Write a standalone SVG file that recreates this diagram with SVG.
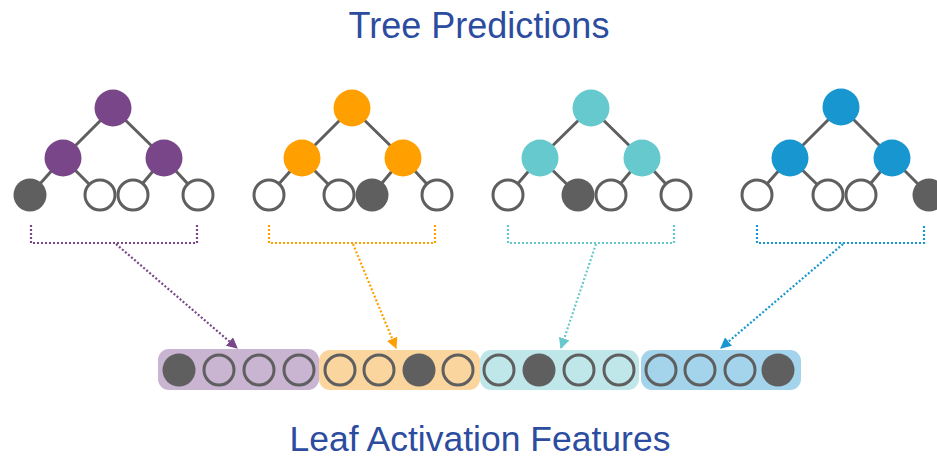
<svg xmlns="http://www.w3.org/2000/svg" width="937" height="459" viewBox="0 0 937 459">
  <style>
    .title { font-family: "Liberation Sans", Arial, sans-serif; font-size: 36px; fill: #2c4c9f; text-anchor: middle; }
    .edge { stroke: #5f5f5f; stroke-width: 3; fill: none; }
    .leaf { fill: #ffffff; stroke: #5f5f5f; stroke-width: 3; }
    .slot { fill: none; stroke: #5f5f5f; stroke-width: 3; }
    .on { fill: #5f5f5f; stroke: none; }
    .dots { fill: none; stroke-width: 2.2; stroke-dasharray: 2 2; }
    .purple { fill: #7a468a; }
    .orange { fill: #ff9f00; }
    .teal { fill: #66c9cd; }
    .blue { fill: #1896d0; }
  </style>
  <defs>
    <marker id="ah-purple" viewBox="0 0 10 10" refX="9" refY="5" markerWidth="5" markerHeight="5" orient="auto" markerUnits="strokeWidth">
      <path d="M0,0 L10,5 L0,10 z" fill="#7a468a"/>
    </marker>
    <marker id="ah-orange" viewBox="0 0 10 10" refX="9" refY="5" markerWidth="5" markerHeight="5" orient="auto" markerUnits="strokeWidth">
      <path d="M0,0 L10,5 L0,10 z" fill="#ff9f00"/>
    </marker>
    <marker id="ah-teal" viewBox="0 0 10 10" refX="9" refY="5" markerWidth="5" markerHeight="5" orient="auto" markerUnits="strokeWidth">
      <path d="M0,0 L10,5 L0,10 z" fill="#66c9cd"/>
    </marker>
    <marker id="ah-blue" viewBox="0 0 10 10" refX="9" refY="5" markerWidth="5" markerHeight="5" orient="auto" markerUnits="strokeWidth">
      <path d="M0,0 L10,5 L0,10 z" fill="#1896d0"/>
    </marker>
  </defs>

  <rect width="937" height="459" fill="#ffffff"/>

  <text class="title" x="479" y="38">Tree Predictions</text>
  <text class="title" x="480" y="451" style="font-size:35.5px">Leaf Activation Features</text>

  <!-- Tree 1 -->
  <g id="tree1">
    <path class="edge" d="M113,108 L63,158 M113,108 L164,158 M63,158 L30,195 M63,158 L100,195 M164,158 L133,195 M164,158 L198,195"/>
    <circle class="purple" cx="113" cy="108" r="18.5"/>
    <circle class="purple" cx="63" cy="158" r="18.5"/>
    <circle class="purple" cx="164" cy="158" r="18.5"/>
    <circle class="on" cx="30" cy="195" r="16.5"/>
    <circle class="leaf" cx="100" cy="195" r="15"/>
    <circle class="leaf" cx="133" cy="195" r="15"/>
    <circle class="leaf" cx="198" cy="195" r="15"/>
  </g>

  <!-- Tree 2 -->
  <g id="tree2">
    <path class="edge" d="M352,108 L302,158 M352,108 L403,158 M302,158 L269,195 M302,158 L339,195 M403,158 L372,195 M403,158 L437,195"/>
    <circle class="orange" cx="352" cy="108" r="18.5"/>
    <circle class="orange" cx="302" cy="158" r="18.5"/>
    <circle class="orange" cx="403" cy="158" r="18.5"/>
    <circle class="leaf" cx="269" cy="195" r="15"/>
    <circle class="leaf" cx="339" cy="195" r="15"/>
    <circle class="on" cx="372" cy="195" r="16.5"/>
    <circle class="leaf" cx="437" cy="195" r="15"/>
  </g>

  <!-- Tree 3 -->
  <g id="tree3">
    <path class="edge" d="M591,108 L540,158 M591,108 L642,158 M540,158 L508,195 M540,158 L578,195 M642,158 L611,195 M642,158 L676,195"/>
    <circle class="teal" cx="591" cy="108" r="18.5"/>
    <circle class="teal" cx="540" cy="158" r="18.5"/>
    <circle class="teal" cx="642" cy="158" r="18.5"/>
    <circle class="leaf" cx="508" cy="195" r="15"/>
    <circle class="on" cx="578" cy="195" r="16.5"/>
    <circle class="leaf" cx="611" cy="195" r="15"/>
    <circle class="leaf" cx="676" cy="195" r="15"/>
  </g>

  <!-- Tree 4 -->
  <g id="tree4">
    <path class="edge" d="M841,107 L790,158 M841,107 L892,158 M790,158 L757,195 M790,158 L828,195 M892,158 L861,195 M892,158 L929,195"/>
    <circle class="blue" cx="841" cy="107" r="18.5"/>
    <circle class="blue" cx="790" cy="158" r="18.5"/>
    <circle class="blue" cx="892" cy="158" r="18.5"/>
    <circle class="leaf" cx="757" cy="195" r="15"/>
    <circle class="leaf" cx="828" cy="195" r="15"/>
    <circle class="leaf" cx="861" cy="195" r="15"/>
    <circle class="on" cx="929" cy="195" r="16.5"/>
  </g>

  <!-- Feature vector segments -->
  <g id="features1">
    <rect x="158" y="349" width="161" height="41" rx="11" fill="#c9b4d1"/>
    <circle class="on" cx="179" cy="370" r="16.5"/>
    <circle class="slot" cx="219" cy="370" r="15"/>
    <circle class="slot" cx="259" cy="370" r="15"/>
    <circle class="slot" cx="299" cy="370" r="15"/>
  </g>
  <g id="features2">
    <rect x="319" y="350" width="161" height="40" rx="11" fill="#fad59e"/>
    <circle class="slot" cx="340" cy="370" r="15"/>
    <circle class="slot" cx="379" cy="370" r="15"/>
    <circle class="on" cx="419" cy="370" r="16.5"/>
    <circle class="slot" cx="458" cy="370" r="15"/>
  </g>
  <g id="features3">
    <rect x="480" y="350" width="159" height="40" rx="11" fill="#bfe7e9"/>
    <circle class="slot" cx="499" cy="370" r="15"/>
    <circle class="on" cx="539" cy="370" r="16.5"/>
    <circle class="slot" cx="579" cy="370" r="15"/>
    <circle class="slot" cx="619" cy="370" r="15"/>
  </g>
  <g id="features4">
    <rect x="641" y="350" width="160" height="40" rx="11" fill="#a3d4ec"/>
    <circle class="slot" cx="661" cy="370" r="15"/>
    <circle class="slot" cx="700" cy="370" r="15"/>
    <circle class="slot" cx="740" cy="370" r="15"/>
    <circle class="on" cx="778" cy="370" r="16.5"/>
  </g>

  <!-- Brackets and mapping arrows -->
  <g id="connectors">
    <path class="dots" stroke="#7a468a" d="M31,225 L31,243 L197,243 L197,225"/>
    <path class="dots" stroke="#7a468a" marker-end="url(#ah-purple)" d="M116,244 L237,348"/>

    <path class="dots" stroke="#ff9f00" d="M269,225 L269,243 L435,243 L435,225"/>
    <path class="dots" stroke="#ff9f00" marker-end="url(#ah-orange)" d="M353,244 L396,348"/>

    <path class="dots" stroke="#66c9cd" d="M508,225 L508,243 L674,243 L674,225"/>
    <path class="dots" stroke="#66c9cd" marker-end="url(#ah-teal)" d="M596,244 L561,348"/>

    <path class="dots" stroke="#1896d0" d="M757,225 L757,243 L924,243 L924,225"/>
    <path class="dots" stroke="#1896d0" marker-end="url(#ah-blue)" d="M843,244 L721,348"/>
  </g>
</svg>
